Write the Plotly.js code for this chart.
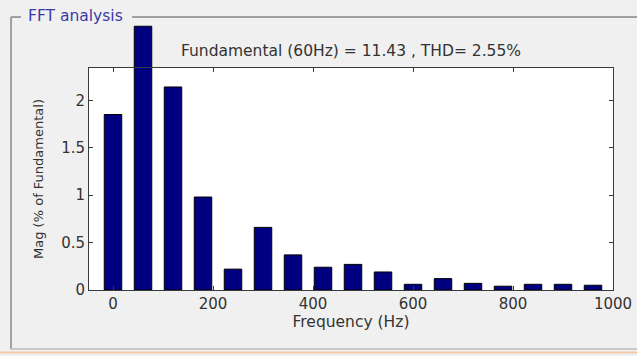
<!DOCTYPE html>
<html>
<head>
<meta charset="utf-8">
<script src="https://cdn.plot.ly/plotly-3.0.1.min.js"></script>
<style>
  html, body { margin: 0; padding: 0; background: #f0f0f0; }
  #chart { width: 637px; height: 356px; }
</style>
</head>
<body>
<div id="chart"></div>
<script>
// Data
const frequencies = [0, 60, 120, 180, 240, 300, 360, 420, 480, 540, 600, 660, 720, 780, 840, 900, 960];
const magnitudes  = [1.85, 2.78, 2.14, 0.98, 0.22, 0.66, 0.37, 0.24, 0.27, 0.19, 0.06, 0.12, 0.07, 0.04, 0.06, 0.06, 0.05];
const xTicks = [0, 200, 400, 600, 800, 1000];
const yTicks = [0, 0.5, 1, 1.5, 2];
const yTickLabels = ['0', '0.5', '1', '1.5', '2'];
const titleText = 'Fundamental (60Hz) = 11.43 , THD= 2.55%';
const panelTitle = 'FFT analysis';
const xTitle = 'Frequency (Hz)';
const yTitle = 'Mag (% of Fundamental)';

// Layout geometry (pixels)
const W = 637, H = 356;
const L = 89, R = 613, TOPFRAME = 68, B = 290, TOPDATA = 20;
const xRange = [-48, 1000];
const yMaxFrame = 2.34;
const frameFrac = (B - TOPFRAME) / (B - TOPDATA);
const yMaxData = yMaxFrame / frameFrac;
const px = x => (x - L) / (R - L);
const py = y => (B - y) / (B - TOPDATA);

const font = 'DejaVu Sans, Liberation Sans, Arial, sans-serif';
const textColor = '#333333';
const axisColor = '#3a3a3a';
const frameColor = '#a0a0a0';

const bars = {
  type: 'bar',
  x: frequencies,
  y: magnitudes,
  xaxis: 'x', yaxis: 'y',
  width: 35,
  marker: { color: '#000080', line: { color: '#000000', width: 1 } },
  hoverinfo: 'x+y'
};
// empty trace so the framed subplot (axes with ticks) exists
const frame = { type: 'scatter', x: [], y: [], xaxis: 'x2', yaxis: 'y2', hoverinfo: 'skip' };

const hiddenAxis = { showline: false, showticklabels: false, ticks: '', showgrid: false, zeroline: false };

const layout = {
  width: W, height: H,
  margin: { l: L, r: W - R, t: TOPDATA, b: H - B, pad: 0 },
  paper_bgcolor: '#f0f0f0',
  plot_bgcolor: 'rgba(0,0,0,0)',
  showlegend: false,
  title: {
    text: titleText,
    font: { family: font, size: 15.5, color: textColor },
    xref: 'paper', x: 0.5, xanchor: 'center',
    yref: 'container', y: 1 - 51 / H, yanchor: 'middle'
  },
  xaxis: Object.assign({ range: xRange, domain: [0, 1], anchor: 'y' }, hiddenAxis),
  yaxis: Object.assign({ range: [0, yMaxData], domain: [0, 1], anchor: 'x' }, hiddenAxis),
  xaxis2: {
    range: xRange, domain: [0, 1], anchor: 'y2',
    tickvals: xTicks,
    ticktext: xTicks.map(String),
    ticks: 'inside', ticklen: 4, tickcolor: axisColor,
    showline: true, linecolor: axisColor, linewidth: 1, mirror: 'ticks',
    showgrid: false, zeroline: false,
    tickfont: { family: font, size: 15, color: textColor },
    title: { text: xTitle, font: { family: font, size: 15.5, color: textColor }, standoff: 4 }
  },
  yaxis2: {
    range: [0, yMaxFrame], domain: [0, frameFrac], anchor: 'x2',
    tickvals: yTicks,
    ticktext: yTickLabels,
    ticks: 'inside', ticklen: 4, tickcolor: axisColor,
    showline: true, linecolor: axisColor, linewidth: 1, mirror: 'ticks',
    showgrid: false, zeroline: false,
    tickfont: { family: font, size: 15, color: textColor },
    title: { text: yTitle, font: { family: font, size: 13, color: textColor }, standoff: 14 }
  },
  shapes: [
    // white plotting area of the framed axes
    { type: 'rect', xref: 'paper', yref: 'paper', x0: 0, x1: 1, y0: 0, y1: frameFrac, layer: 'below',
      fillcolor: '#ffffff', line: { width: 0 } },
    // panel border
    { type: 'line', xref: 'paper', yref: 'paper', x0: px(11), x1: px(11), y0: py(17), y1: py(349), line: { color: frameColor, width: 2 } },
    { type: 'line', xref: 'paper', yref: 'paper', x0: px(11), x1: px(21), y0: py(17), y1: py(17), line: { color: frameColor, width: 2 } },
    { type: 'line', xref: 'paper', yref: 'paper', x0: px(132), x1: px(640), y0: py(17), y1: py(17), line: { color: frameColor, width: 2 } },
    { type: 'line', xref: 'paper', yref: 'paper', x0: px(11), x1: px(640), y0: py(349), y1: py(349), line: { color: '#c8c8c8', width: 2 } },
    { type: 'line', xref: 'paper', yref: 'paper', x0: px(0), x1: px(640), y0: py(352.5), y1: py(352.5), line: { color: '#f3c9a8', width: 2 } }
  ],
  annotations: [
    { text: panelTitle, xref: 'paper', yref: 'paper', x: px(26), y: py(16), xanchor: 'left', yanchor: 'middle',
      showarrow: false, font: { family: font, size: 15.5, color: '#3b3ba6' } }
  ]
};

Plotly.newPlot('chart', [bars, frame], layout, { displayModeBar: false, staticPlot: true });
</script>
</body>
</html>
